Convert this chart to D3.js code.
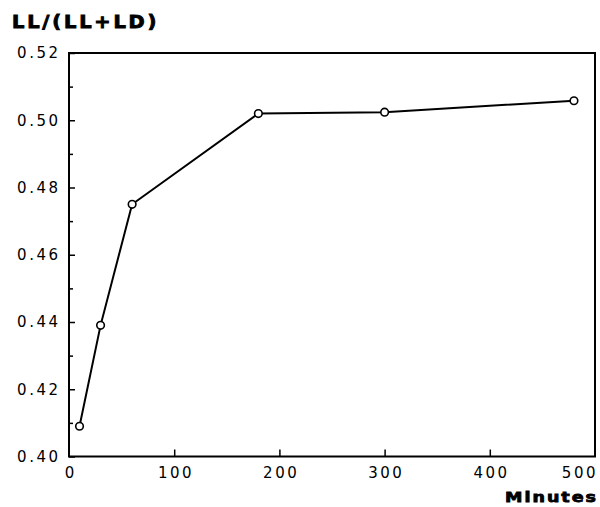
<!DOCTYPE html>
<html>
<head>
<meta charset="utf-8">
<script src="https://cdn.jsdelivr.net/npm/d3@7"></script>
<style>
  html, body { margin: 0; padding: 0; background: #fff; }
  svg { display: block; }
  .tick text { font-family: "DejaVu Sans", sans-serif; font-size: 15px; fill: #000; letter-spacing: 2.5px; }
</style>
</head>
<body>
<svg id="chart" width="600" height="507"></svg>
<script>
// Measured ratio LL/(LL+LD) over time
const minutes = [10, 30, 60, 180, 300, 480];
const ratio = [0.409, 0.439, 0.475, 0.502, 0.5024, 0.5058];

const xTickValues = [0, 100, 200, 300, 400, 500];
const yMajorTicks = [0.40, 0.42, 0.44, 0.46, 0.48, 0.50, 0.52];
const yMinorTicks = [0.41, 0.43, 0.45, 0.47, 0.49, 0.51];

const yTitle = "LL/(LL+LD)";
const xTitle = "Minutes";

const svg = d3.select("#chart");
const plotLeft = 69, plotRight = 595, plotTop = 53, plotBottom = 456.5;

const x = d3.scaleLinear().domain([0, 500]).range([plotLeft, plotRight]);
const y = d3.scaleLinear().domain([0.40, 0.52]).range([plotBottom, plotTop]);

// Frame
svg.append("rect")
  .attr("x", plotLeft).attr("y", plotTop)
  .attr("width", plotRight - plotLeft).attr("height", plotBottom - plotTop)
  .attr("fill", "none").attr("stroke", "#000").attr("stroke-width", 2);

// X axis: inward ticks on the interior values, labels below
const gx = svg.append("g")
  .attr("transform", `translate(0,${plotBottom})`)
  .call(d3.axisBottom(x).tickValues(xTickValues).tickSize(-7).tickPadding(11).tickFormat(d3.format("d")));
gx.select(".domain").remove();
gx.selectAll(".tick line").attr("stroke-width", 1.5)
  .filter(d => d === 0 || d === 500).remove();
gx.selectAll(".tick text").attr("dx", "1.25px")
  .filter(d => d === 500).attr("text-anchor", "end").attr("dx", "2.5px");

// Y axis: major ticks with labels, minor ticks without
const gy = svg.append("g")
  .attr("transform", `translate(${plotLeft},0)`)
  .call(d3.axisLeft(y).tickValues(yMajorTicks).tickSize(-6).tickPadding(11).tickFormat(d3.format(".2f")));
gy.select(".domain").remove();
gy.selectAll(".tick line").attr("stroke-width", 1.5);
gy.selectAll(".tick text").attr("dx", "2.5px");

const gyMinor = svg.append("g")
  .attr("transform", `translate(${plotLeft},0)`)
  .call(d3.axisLeft(y).tickValues(yMinorTicks).tickSize(-4).tickFormat(""));
gyMinor.select(".domain").remove();
gyMinor.selectAll(".tick line").attr("stroke-width", 1.5);

// Data line
const line = d3.line().x((d, i) => x(minutes[i])).y(d => y(d));
svg.append("path")
  .datum(ratio)
  .attr("d", line)
  .attr("fill", "none").attr("stroke", "#000").attr("stroke-width", 2);

// Open circle markers
svg.selectAll("circle.pt")
  .data(ratio)
  .join("circle")
  .attr("class", "pt")
  .attr("cx", (d, i) => x(minutes[i]))
  .attr("cy", d => y(d))
  .attr("r", 3.8)
  .attr("fill", "#fff").attr("stroke", "#000").attr("stroke-width", 1.6);

// Titles (heavy, wide lettering)
svg.append("text")
  .attr("transform", "translate(12,28) scale(1.08,1)")
  .attr("font-family", "DejaVu Sans, sans-serif")
  .attr("font-weight", "bold").attr("font-size", 18)
  .attr("letter-spacing", "2.6px")
  .attr("stroke", "#000").attr("stroke-width", 0.9)
  .text(yTitle);

svg.append("text")
  .attr("transform", "translate(598,502) scale(1.25,1)")
  .attr("text-anchor", "end")
  .attr("font-family", "DejaVu Sans, sans-serif")
  .attr("font-weight", "bold").attr("font-size", 14)
  .attr("letter-spacing", "1.6px")
  .attr("stroke", "#000").attr("stroke-width", 0.8)
  .text(xTitle);
</script>
</body>
</html>
